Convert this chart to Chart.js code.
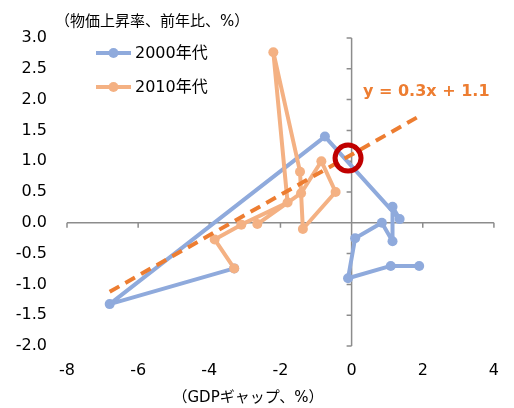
<!DOCTYPE html>
<html>
<head>
<meta charset="utf-8">
<script src="https://cdn.jsdelivr.net/npm/chart.js@4/dist/chart.umd.min.js"></script>
<style>
  body { margin: 0; background: #fff; }
</style>
</head>
<body>
<canvas id="chart" width="514" height="408"></canvas>
<script>
// GDPギャップ (x) と物価上昇率 (y)、2000年〜2010年 / 2010年〜2020年
const gap2000s = [1.9, 1.1, -0.1, 0.1, 0.85, 1.15, 1.15, 1.35, -0.75, -6.8, -3.3]
const cpi2000s = [-0.7, -0.7, -0.9, -0.25, 0.0, -0.3, 0.26, 0.06, 1.4, -1.32, -0.74]
const gap2010s = [-3.3, -3.85, -3.1, -1.8, -2.2, -1.45, -1.37, -0.45, -0.85, -1.42, -2.65]
const cpi2010s = [-0.74, -0.27, -0.03, 0.33, 2.77, 0.83, -0.1, 0.5, 1.0, 0.48, -0.02]
const trendX = [-6.8, 1.93]
const trendY = [-1.12, 1.74]
const circleX = [-0.1]
const circleY = [1.05]
const seriesNames = ['2000年代', '2010年代']
const trendLabel = 'y = 0.3x + 1.1'
const xTicks = [-8, -6, -4, -2, 0, 2, 4]
const yTicks = [-2, -1.5, -1, -0.5, 0, 0.5, 1, 1.5, 2, 2.5, 3]
const xTitle = '（GDPギャップ、%）'
const yTitle = '（物価上昇率、前年比、%）'

const blue = '#8FAADC'
const peach = '#F4B183'
const orange = '#ED7D31'
const font = "'DejaVu Sans', 'Noto Sans CJK JP', sans-serif"

const pts = (xs, ys) => xs.map((v, i) => ({ x: v, y: ys[i] }))

// axis lines crossing at zero, Excel style
const axesAtZero = {
  id: 'axesAtZero',
  beforeDatasetsDraw(chart) {
    const { ctx, scales: { x, y } } = chart
    const x0 = x.getPixelForValue(0)
    const y0 = y.getPixelForValue(0)
    ctx.save()
    ctx.strokeStyle = '#8c8c8c'
    ctx.lineWidth = 1.5
    ctx.beginPath()
    ctx.moveTo(x.getPixelForValue(xTicks[0]), y0)
    ctx.lineTo(x.getPixelForValue(xTicks[xTicks.length - 1]), y0)
    xTicks.forEach(v => {
      const px = x.getPixelForValue(v)
      ctx.moveTo(px, y0)
      ctx.lineTo(px, y0 + 5)
    })
    ctx.moveTo(x0, y.getPixelForValue(yTicks[0]))
    ctx.lineTo(x0, y.getPixelForValue(yTicks[yTicks.length - 1]))
    yTicks.forEach(v => {
      const py = y.getPixelForValue(v)
      ctx.moveTo(x0, py)
      ctx.lineTo(x0 - 5, py)
    })
    ctx.stroke()
    ctx.restore()
  }
}

const texts = {
  id: 'texts',
  afterDraw(chart) {
    const { ctx } = chart
    ctx.save()
    ctx.textBaseline = 'middle'
    ctx.fillStyle = '#000'
    ctx.font = '15px ' + font
    ctx.textAlign = 'left'
    ctx.fillText(yTitle, 55, 22)
    ctx.textAlign = 'center'
    ctx.fillText(xTitle, 248, 398)

    // legend
    ;[blue, peach].forEach((c, i) => {
      const ly = 53 + i * 34
      ctx.strokeStyle = c
      ctx.lineWidth = 4
      ctx.beginPath()
      ctx.moveTo(96, ly)
      ctx.lineTo(131, ly)
      ctx.stroke()
      ctx.fillStyle = c
      ctx.beginPath()
      ctx.arc(113.5, ly, 5, 0, Math.PI * 2)
      ctx.fill()
      ctx.fillStyle = '#000'
      ctx.textAlign = 'left'
      ctx.font = '16px ' + font
      ctx.fillText(seriesNames[i], 135, ly + 1)
    })

    ctx.fillStyle = orange
    ctx.font = 'bold 16px ' + font
    ctx.textAlign = 'left'
    ctx.fillText(trendLabel, 363, 92)
    ctx.restore()
  }
}

const series = (name, xs, ys, c, order) => ({
  label: name,
  data: pts(xs, ys),
  showLine: true,
  borderColor: c,
  backgroundColor: c,
  borderWidth: 4,
  borderJoinStyle: 'round',
  borderCapStyle: 'round',
  pointRadius: 5,
  pointBorderWidth: 0,
  order
})

new Chart(document.getElementById('chart'), {
  type: 'scatter',
  data: {
    datasets: [
      {
        data: pts(circleX, circleY),
        pointRadius: 13,
        pointHoverRadius: 13,
        pointBackgroundColor: 'rgba(0,0,0,0)',
        pointBorderColor: '#C00000',
        pointBorderWidth: 5,
        order: 0
      },
      {
        data: pts(trendX, trendY),
        showLine: true,
        borderColor: orange,
        borderWidth: 4,
        borderDash: [11, 7],
        pointRadius: 0,
        order: 1
      },
      series(seriesNames[1], gap2010s, cpi2010s, peach, 2),
      series(seriesNames[0], gap2000s, cpi2000s, blue, 3)
    ]
  },
  options: {
    responsive: false,
    animation: false,
    layout: { padding: { top: 38, right: 20, left: 0, bottom: 0 } },
    plugins: {
      legend: { display: false },
      tooltip: { enabled: false }
    },
    scales: {
      x: {
        type: 'linear',
        min: -8,
        max: 4,
        afterBuildTicks: s => { s.ticks = xTicks.map(v => ({ value: v })) },
        afterFit: s => { s.height = 62 },
        grid: { display: false, drawTicks: false },
        border: { display: false },
        ticks: { color: '#000', padding: 15, font: { family: font, size: 16 } }
      },
      y: {
        min: -2,
        max: 3,
        afterBuildTicks: s => { s.ticks = yTicks.map(v => ({ value: v })) },
        afterFit: s => { s.width = 67 },
        grid: { display: false, drawTicks: false },
        border: { display: false },
        ticks: {
          color: '#000',
          padding: 20,
          font: { family: font, size: 16 },
          callback: v => v.toFixed(1)
        }
      }
    }
  },
  plugins: [axesAtZero, texts]
})
</script>
</body>
</html>
